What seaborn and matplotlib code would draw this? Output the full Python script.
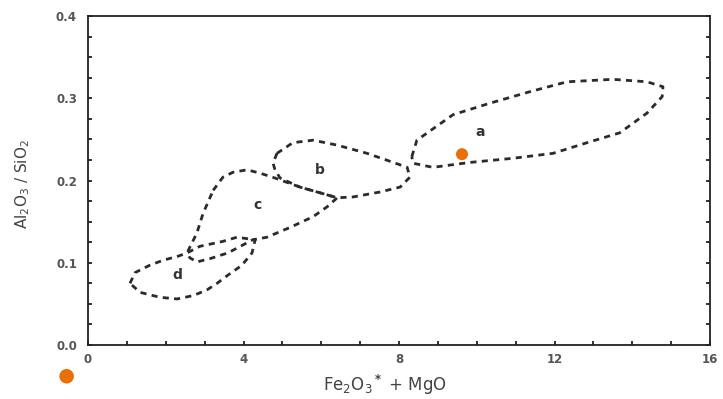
import numpy as np
import pandas as pd
import matplotlib
matplotlib.use("Agg")
import matplotlib.pyplot as plt
import matplotlib.ticker as mticker
import seaborn as sns

# ---- data ----
a_x = [8.33, 8.46, 9.39, 10.34, 11.37, 12.32, 13.50, 14.38, 14.79, 14.77, 14.38, 13.68, 12.84, 11.96, 10.93, 9.83, 8.87, 8.36, 8.33]
a_y = [0.229, 0.249, 0.280, 0.294, 0.308, 0.320, 0.323, 0.320, 0.314, 0.302, 0.282, 0.258, 0.246, 0.233, 0.227, 0.222, 0.216, 0.221, 0.229]

b_x = [4.86, 5.27, 5.79, 6.41, 7.18, 7.85, 8.21, 8.28, 8.03, 7.51, 6.82, 6.41, 5.97, 5.45, 4.94, 4.81, 4.76, 4.86]
b_y = [0.233, 0.246, 0.249, 0.243, 0.233, 0.222, 0.216, 0.204, 0.192, 0.186, 0.180, 0.179, 0.185, 0.192, 0.203, 0.213, 0.221, 0.233]

c_x = [3.22, 3.47, 3.73, 4.09, 4.42, 4.81, 5.45, 5.97, 6.41, 6.15, 5.79, 5.20, 4.60, 4.24, 3.60, 3.14, 2.80, 2.62, 2.55, 2.62, 2.80, 2.96, 3.22]
c_y = [0.188, 0.204, 0.210, 0.213, 0.209, 0.203, 0.192, 0.185, 0.179, 0.168, 0.156, 0.143, 0.131, 0.128, 0.112, 0.105, 0.101, 0.106, 0.112, 0.119, 0.136, 0.160, 0.188]

d_x = [1.08, 1.21, 1.59, 1.93, 2.32, 2.55, 2.88, 3.47, 3.83, 4.30, 4.22, 3.96, 3.60, 3.32, 3.06, 2.70, 2.29, 1.85, 1.34, 1.08]
d_y = [0.075, 0.088, 0.097, 0.103, 0.108, 0.112, 0.120, 0.126, 0.131, 0.128, 0.112, 0.097, 0.085, 0.075, 0.067, 0.060, 0.056, 0.058, 0.064, 0.075]

field_labels = ["a", "b", "c", "d"]
label_x = [10.08, 5.97, 4.35, 2.29]
label_y = [0.259, 0.213, 0.170, 0.085]

sample_x = [9.62]
sample_y = [0.232]
extra_x = [-0.55]
extra_y = [-0.038]

x_ticks = [0, 4, 8, 12, 16]
y_ticks = [0.0, 0.1, 0.2, 0.3, 0.4]

# ---- build table ----
frames = []
for name, xs, ys in [("a", a_x, a_y), ("b", b_x, b_y), ("c", c_x, c_y), ("d", d_x, d_y)]:
    frames.append(pd.DataFrame({"x": xs, "y": ys, "field": name, "order": range(len(xs))}))
df = pd.concat(frames, ignore_index=True)

sns.set_style("ticks")
plt.rcParams["font.family"] = ["DejaVu Sans"]
plt.rcParams["mathtext.fontset"] = "dejavusans"

fig = plt.figure(figsize=(7.23, 3.99), dpi=100)
ax = fig.add_axes([88 / 723, (399 - 345) / 399, (710 - 88) / 723, (345 - 16) / 399])

line_color = "#2b2b2b"
sns.lineplot(data=df, x="x", y="y", units="field", estimator=None, sort=False,
             color=line_color, lw=2.0, ax=ax, legend=False)
for ln in ax.get_lines():
    ln.set_dashes([2.2, 1.9])

for t, lx, ly in zip(field_labels, label_x, label_y):
    ax.text(lx, ly, t, fontsize=10, fontweight="bold", color="#333333", ha="center", va="center")

orange = "#E8700A"
sns.scatterplot(x=sample_x, y=sample_y, color=orange, s=75, edgecolor="none", ax=ax, zorder=5)
ax.scatter(extra_x, extra_y, color=orange, s=110, edgecolors="none", clip_on=False, zorder=5)

ax.set_xlim(0, 16)
ax.set_ylim(0, 0.4)
ax.set_xticks(x_ticks)
ax.set_yticks(y_ticks)
ax.set_xticklabels([str(v) for v in x_ticks])
ax.set_yticklabels([f"{v:.1f}" for v in y_ticks])
ax.xaxis.set_minor_locator(mticker.MultipleLocator(1))
ax.yaxis.set_minor_locator(mticker.MultipleLocator(0.025))
ax.tick_params(axis="both", which="both", direction="in", right=True, top=False,
               labelcolor="#555555", labelsize=8.5, color="#222222")
ax.tick_params(axis="both", which="major", length=3, width=1.3)
ax.tick_params(axis="both", which="minor", length=3, width=1.3)
ax.tick_params(axis="x", pad=6)
ax.tick_params(axis="y", pad=8)
for lab in ax.get_xticklabels() + ax.get_yticklabels():
    lab.set_fontweight("bold")
for sp in ax.spines.values():
    sp.set_visible(True)
    sp.set_linewidth(1.3)
    sp.set_color("#222222")

ax.set_xlabel(r"Fe$_2$O$_3$$^{\bf *}$ + MgO", fontsize=12, color="#444444")
ax.set_ylabel(r"Al$_2$O$_3$ / SiO$_2$", fontsize=11, color="#444444")
ax.xaxis.set_label_coords(0.478, -0.085)
ax.yaxis.set_label_coords(-0.09, 0.49)

fig.savefig("out.png", dpi=100)
